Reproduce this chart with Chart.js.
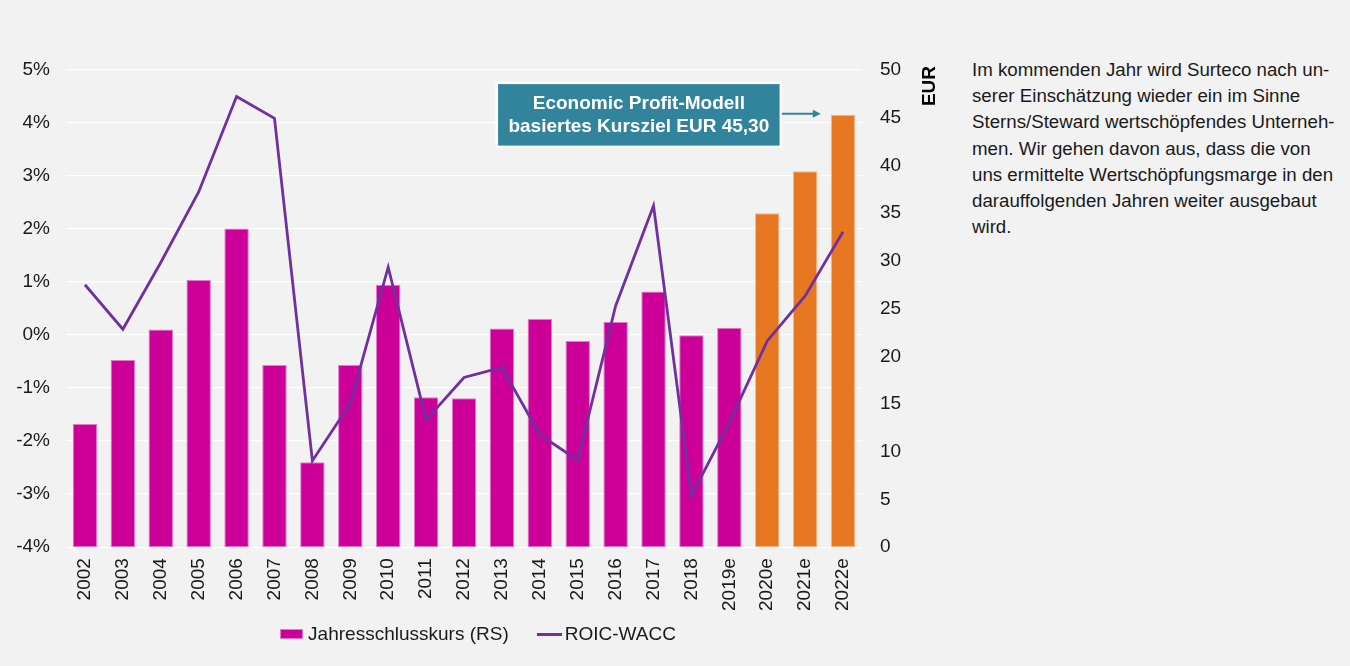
<!DOCTYPE html>
<html>
<head>
<meta charset="utf-8">
<script src="https://cdn.jsdelivr.net/npm/chart.js@4.4.1/dist/chart.umd.min.js"></script>
<style>
  html, body { margin:0; padding:0; background:#F2F2F2; }
  body { width:1350px; height:666px; position:relative; overflow:hidden; font-family:"Liberation Sans", Arial, sans-serif; }
  #wrap { position:absolute; left:0; top:0; width:956px; height:666px; }
  #side { position:absolute; left:972px; top:57px; width:375px; font-size:18.7px; line-height:26.2px; color:#1a1a1a; white-space:nowrap; }
  #legend { position:absolute; left:0; top:622px; width:956px; height:24px; display:flex; justify-content:center; align-items:center; font-size:19px; color:#1a1a1a; white-space:nowrap; }
  .li { display:flex; align-items:center; margin:0 14px; line-height:24px; }
  .mk { display:block; margin-right:5px; box-sizing:border-box; }
</style>
</head>
<body>
<div id="wrap"><canvas id="c"></canvas></div>
<div id="legend"></div>
<div id="side">Im kommenden Jahr wird Surteco nach un-<br>serer Einschätzung wieder ein im Sinne<br>Sterns/Steward wertschöpfendes Unterneh-<br>men. Wir gehen davon aus, dass die von<br>uns ermittelte Wertschöpfungsmarge in den<br>darauffolgenden Jahren weiter ausgebaut<br>wird.</div>
<script>
const years = ["2002","2003","2004","2005","2006","2007","2008","2009","2010","2011","2012","2013","2014","2015","2016","2017","2018","2019e","2020e","2021e","2022e"];
const jahresschlusskurs = [12.9, 19.6, 22.8, 28.0, 33.4, 19.1, 8.9, 19.1, 27.5, 15.7, 15.6, 22.9, 23.9, 21.6, 23.6, 26.8, 22.2, 23.0, 35.0, 39.4, 45.3];
const roicWacc = [0.95, 0.11, 1.37, 2.70, 4.50, 4.09, -2.37, -1.29, 1.28, -1.60, -0.80, -0.61, -1.88, -2.36, 0.55, 2.44, -3.03, -1.65, -0.11, 0.74, 1.95];
const estimateFlags = [0,0,0,0,0,0,0,0,0,0,0,0,0,0,0,0,0,0,1,1,1];
const leftTicks = [-4, 5, 1];
const rightTicks = [0, 50, 5];
const kursziel = 45.30;
const annotationLines = ["Economic Profit-Modell", "basiertes Kursziel EUR 45,30"];

const MAGENTA = "#CC0099", ORANGE = "#E87722", PURPLE = "#7030A0", TEAL = "#31849B";
const FONT = "'Liberation Sans', Arial, sans-serif";
Chart.defaults.font.family = FONT;
Chart.defaults.font.size = 19;
Chart.defaults.color = "#1a1a1a";

const annot = {
  id: "annot",
  afterDraw(chart) {
    const ctx = chart.ctx;
    const y1 = chart.scales.y1, area = chart.chartArea;
    const meta = chart.getDatasetMeta(1);
    const bar = meta.data[meta.data.length - 1];
    const tipX = bar.x - bar.width / 2 - 10;
    const tipY = y1.getPixelForValue(kursziel) - 1;
    const startX = tipX - 40;
    const bw = 284, bh = 64;
    const bx = startX - bw, by = tipY - 31;
    ctx.save();
    ctx.fillStyle = TEAL;
    ctx.fillRect(bx, by, bw, bh);
    ctx.strokeStyle = "#ffffff";
    ctx.lineWidth = 2.5;
    ctx.strokeRect(bx, by, bw, bh);
    ctx.fillStyle = "#ffffff";
    ctx.font = "bold 19px " + FONT;
    ctx.textAlign = "center";
    ctx.textBaseline = "middle";
    ctx.fillText(annotationLines[0], bx + bw / 2, by + 21);
    ctx.fillText(annotationLines[1], bx + bw / 2, by + 44);
    ctx.strokeStyle = TEAL;
    ctx.lineWidth = 2;
    ctx.beginPath();
    ctx.moveTo(startX + 1, tipY);
    ctx.lineTo(tipX - 6, tipY);
    ctx.stroke();
    ctx.fillStyle = TEAL;
    ctx.beginPath();
    ctx.moveTo(tipX, tipY);
    ctx.lineTo(tipX - 8, tipY - 4);
    ctx.lineTo(tipX - 8, tipY + 4);
    ctx.closePath();
    ctx.fill();
    ctx.fillStyle = "#000000";
    ctx.font = "bold 19px " + FONT;
    ctx.translate(area.right + 68, area.top + 16);
    ctx.rotate(-Math.PI / 2);
    ctx.textAlign = "center";
    ctx.textBaseline = "middle";
    ctx.fillText("EUR", 0, 0);
    ctx.restore();
  }
};

const chart = new Chart(document.getElementById("c"), {
  data: {
    labels: years,
    datasets: [
      {
        type: "line",
        label: "ROIC-WACC",
        data: roicWacc,
        yAxisID: "y",
        borderColor: PURPLE,
        backgroundColor: PURPLE,
        borderWidth: 2.8,
        pointRadius: 0,
        pointHoverRadius: 0,
        tension: 0,
        order: 0
      },
      {
        type: "bar",
        label: "Jahresschlusskurs (RS)",
        data: jahresschlusskurs,
        yAxisID: "y1",
        backgroundColor: estimateFlags.map(f => f ? ORANGE : MAGENTA),
        borderColor: estimateFlags.map(f => f ? "#F5B98F" : "#E27ACB"),
        borderWidth: 1,
        borderSkipped: false,
        categoryPercentage: 1,
        barPercentage: 0.645,
        order: 1
      }
    ]
  },
  options: {
    responsive: true,
    maintainAspectRatio: false,
    animation: false,
    layout: { padding: { top: 70, bottom: 44, left: 0, right: 0 } },
    plugins: {
      legend: { display: false },
      tooltip: { enabled: false }
    },
    scales: {
      x: {
        grid: { display: false, drawTicks: false },
        border: { display: false },
        ticks: { minRotation: 90, maxRotation: 90, padding: 11, color: "#1a1a1a", autoSkip: false }
      },
      y: {
        position: "left",
        min: leftTicks[0], max: leftTicks[1],
        grid: { color: "#ffffff", lineWidth: 1.3, drawTicks: false },
        border: { display: false },
        ticks: { stepSize: leftTicks[2], padding: 16, callback: v => v + "%", color: "#1a1a1a" },
        afterFit: s => { s.width = 66; }
      },
      y1: {
        position: "right",
        min: rightTicks[0], max: rightTicks[1],
        grid: { display: false, drawTicks: false },
        border: { display: false },
        ticks: { stepSize: rightTicks[2], padding: 18, color: "#1a1a1a" },
        afterFit: s => { s.width = 94; }
      }
    }
  },
  plugins: [annot]
});

// HTML legend built from the datasets (bar first, then line)
const leg = document.getElementById("legend");
[chart.data.datasets[1], chart.data.datasets[0]].forEach(ds => {
  const item = document.createElement("span");
  item.className = "li";
  const mk = document.createElement("span");
  mk.className = "mk";
  if (ds.type === "bar") {
    mk.style.width = "23px"; mk.style.height = "10px";
    mk.style.background = ds.backgroundColor[0];
    mk.style.border = "1px solid " + ds.borderColor[0];
  } else {
    mk.style.width = "25px"; mk.style.height = "3px";
    mk.style.background = ds.borderColor;
    mk.style.marginRight = "3px";
  }
  item.appendChild(mk);
  item.appendChild(document.createTextNode(ds.label));
  leg.appendChild(item);
});
</script>
</body>
</html>
